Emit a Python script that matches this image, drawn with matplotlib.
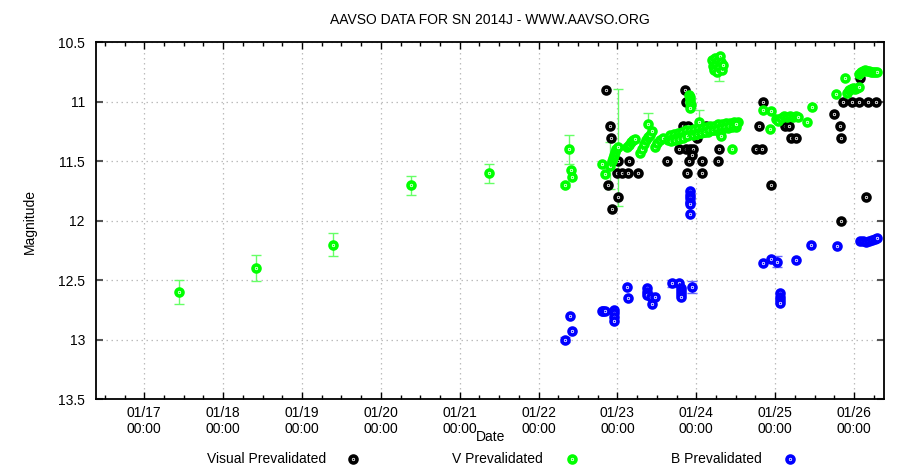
import numpy as np
import pandas as pd
import matplotlib
matplotlib.use("Agg")
import matplotlib.pyplot as plt
import matplotlib.dates as mdates
from matplotlib.lines import Line2D
from matplotlib.ticker import FixedLocator, FuncFormatter

plt.rcParams['font.family'] = ['Liberation Sans', 'DejaVu Sans']

# ---------------- data (day of January 2014, magnitude) ----------------
vis_days = [22.855, 22.905, 22.918, 22.876, 23.011, 22.935,
            23.003, 23.146, 23.624, 23.911, 24.068, 24.279,
            22.990, 23.054, 23.137, 23.257, 23.886, 24.072,
            23.780, 23.865, 23.920, 23.962, 24.288, 24.753, 24.829,
            23.853, 23.865, 23.831, 23.894, 23.941, 24.005, 24.122,
            24.849, 24.799, 24.943, 25.125, 25.179, 25.197, 25.264,
            25.750, 25.822, 25.835, 26.076,
            25.864, 25.970, 26.063, 26.181, 26.275, 26.148, 25.838]
vis_mags = [10.90, 11.20, 11.30, 11.70, 11.80, 11.90,
            11.50, 11.50, 11.50, 11.50, 11.50, 11.50,
            11.60, 11.60, 11.60, 11.60, 11.60, 11.60,
            11.40, 11.40, 11.40, 11.40, 11.40, 11.40, 11.40,
            10.90, 11.00, 11.20, 11.20, 11.45, 11.30, 11.20,
            11.00, 11.20, 11.70, 11.20, 11.20, 11.30, 11.30,
            11.10, 11.20, 11.30, 10.80,
            11.00, 11.00, 11.00, 11.00, 11.00, 11.80, 12.00]

v_days = [17.440, 18.416, 19.394, 20.383, 21.372,
          22.336, 22.387, 22.417, 22.424,
          22.800, 22.842, 22.905, 22.930, 22.943, 22.955, 22.968, 22.980, 23.003,
          23.120, 23.146, 23.171, 23.196, 23.222,
          23.286, 23.311, 23.337, 23.362, 23.387, 23.413,
          23.384, 23.438, 23.476, 23.501, 23.539, 23.577,
          23.641, 23.666, 23.692, 23.717, 23.742, 23.768, 23.793, 23.818, 23.844,
          23.869, 23.894, 23.920, 23.945, 23.970, 23.996, 24.021, 24.046, 24.072,
          24.097, 24.122, 24.148, 24.173, 24.198, 24.224, 24.249, 24.274, 24.300,
          24.325, 24.350, 24.376, 24.401, 24.426, 24.452, 24.477, 24.503, 24.528,
          23.680, 23.730, 23.780, 23.830, 23.880, 23.960, 24.010, 24.060,
          24.110, 24.160, 24.210, 24.260, 24.310, 24.360, 24.410, 24.460, 24.510,
          23.907, 23.920, 23.920, 23.926, 23.932, 23.920,
          24.034,
          24.198, 24.211, 24.224, 24.236, 24.249, 24.262, 24.274, 24.287,
          24.300, 24.312, 24.325, 24.338,
          24.305, 24.309, 24.449,
          24.842, 24.947, 24.934, 25.010,
          25.036, 25.074, 25.112, 25.150, 25.188, 25.226, 25.264, 25.290,
          25.400, 25.463, 25.767, 25.889,
          25.911, 25.936, 25.962, 25.987, 26.012, 26.038, 26.063,
          26.063, 26.088, 26.114, 26.139, 26.164, 26.190, 26.215, 26.240, 26.266, 26.291]
v_mags = [12.60, 12.40, 12.20, 11.70, 11.60,
          11.70, 11.40, 11.57, 11.63,
          11.52, 11.61, 11.54, 11.50, 11.47, 11.45, 11.42, 11.40, 11.38,
          11.38, 11.36, 11.34, 11.32, 11.31,
          11.43, 11.40, 11.355, 11.32, 11.295, 11.28,
          11.19, 11.245, 11.38, 11.345, 11.32, 11.30,
          11.32, 11.28, 11.31, 11.27, 11.30, 11.26, 11.29, 11.25, 11.29,
          11.24, 11.28, 11.24, 11.27, 11.23, 11.27, 11.22, 11.26, 11.22,
          11.25, 11.21, 11.25, 11.20, 11.24, 11.20, 11.24, 11.19, 11.23,
          11.19, 11.22, 11.18, 11.22, 11.18, 11.21, 11.17, 11.21, 11.17,
          11.33, 11.32, 11.31, 11.30, 11.29, 11.28, 11.27, 11.26,
          11.25, 11.24, 11.235, 11.23, 11.22, 11.21, 11.205, 11.20, 11.19,
          10.94, 10.96, 10.98, 11.01, 11.03, 11.05,
          11.17,
          10.65, 10.70, 10.73, 10.63, 10.68, 10.75, 10.65, 10.71,
          10.61, 10.66, 10.73, 10.69,
          11.26, 11.29, 11.40,
          11.07, 11.08, 11.23, 11.14,
          11.16, 11.135, 11.12, 11.13, 11.12, 11.13, 11.12, 11.13,
          11.17, 11.04, 10.93, 10.80,
          10.925, 10.90, 10.89, 10.88, 10.89, 10.88, 10.875,
          10.765, 10.75, 10.74, 10.735, 10.74, 10.74, 10.75, 10.75, 10.75, 10.75]

# error bars on V (day, mag, err)
v_err_days = [17.440, 18.416, 19.394, 20.383, 21.372, 22.336, 22.387,
              22.905, 23.003, 23.384, 24.034, 24.287]
v_err_mags = [12.60, 12.40, 12.20, 11.70, 11.60, 11.70, 11.40,
              11.535, 11.383, 11.19, 11.17, 10.71]
v_err_vals = [0.10, 0.11, 0.10, 0.08, 0.08, 0.02, 0.12,
              0.20, 0.49, 0.10, 0.10, 0.115]

b_days = [22.336, 22.420, 22.399,
          22.800, 22.821, 22.842,
          22.960, 22.960, 22.960, 22.960,
          23.117, 23.137, 23.371, 23.371, 23.371, 23.425, 23.476, 23.438,
          23.688, 23.784, 23.806, 23.806, 23.806, 23.806, 23.949,
          23.920, 23.920, 23.920, 23.920, 23.922, 23.924,
          24.849, 24.947, 25.019, 25.264, 25.454, 25.780,
          25.060, 25.060, 25.062, 25.060,
          26.075, 26.114, 26.152, 26.190, 26.228, 26.266, 26.291]
b_mags = [13.00, 12.93, 12.80,
          12.76, 12.76, 12.76,
          12.75, 12.78, 12.81, 12.84,
          12.56, 12.65, 12.565, 12.60, 12.625, 12.64, 12.645, 12.70,
          12.525, 12.52, 12.565, 12.59, 12.615, 12.64, 12.556,
          11.75, 11.78, 11.81, 11.84, 11.86, 11.94,
          12.357, 12.323, 12.343, 12.332, 12.203, 12.214,
          12.61, 12.64, 12.67, 12.69,
          12.17, 12.173, 12.18, 12.17, 12.16, 12.153, 12.145]

b_err_days = [22.336, 23.688, 23.949, 25.019]
b_err_mags = [13.00, 12.525, 12.556, 12.343]
b_err_vals = [0.02, 0.03, 0.05, 0.045]

x_start = 16.3875
x_end = 26.377

title = "AAVSO DATA FOR SN 2014J - WWW.AAVSO.ORG"
legend_labels = ["Visual Prevalidated", "V Prevalidated", "B Prevalidated"]
colors = ["#000000", "#00ff00", "#0000ff"]

# ---------------- helpers ----------------
base = pd.Timestamp("2014-01-01")
def to_dt(days):
    return base + pd.to_timedelta(np.asarray(days, dtype=float) - 1.0, unit="D")

W, H = 900, 473
fig = plt.figure(figsize=(W / 100, H / 100), dpi=100)
L, R, T, B = 96, 883.7, 42.5, 399
ax = fig.add_axes([L / W, 1 - B / H, (R - L) / W, (B - T) / H])

MS, MEW, DOT = 5.0, 2.6, 1.2

def draw_points(days, mags, color, z):
    d = to_dt(days)
    ax.plot(d, mags, linestyle='none', marker='o', ms=MS, mfc='white',
            mec=color, mew=MEW, zorder=z)
    ax.plot(d, mags, linestyle='none', marker='o', ms=DOT, mfc=color,
            mec=color, mew=0, zorder=z + 0.1)

# error bars
ax.errorbar(to_dt(v_err_days), v_err_mags, yerr=v_err_vals, fmt='none',
            ecolor='#66ff66', elinewidth=1.0, capsize=3.5, capthick=1.0, zorder=2)
ax.errorbar(to_dt(b_err_days), b_err_mags, yerr=b_err_vals, fmt='none',
            ecolor='#6666ff', elinewidth=1.0, capsize=3.5, capthick=1.0, zorder=2)

draw_points(vis_days, vis_mags, colors[0], 3)
draw_points(v_days, v_mags, colors[1], 4)
draw_points(b_days, b_mags, colors[2], 5)

# axes limits & ticks
ax.set_xlim(to_dt([x_start])[0], to_dt([x_end])[0])
ax.set_ylim(13.5, 10.5)

ax.xaxis.set_major_locator(mdates.DayLocator())
ax.xaxis.set_minor_locator(mdates.HourLocator(byhour=[0, 6, 12, 18]))
ax.xaxis.set_major_formatter(mdates.DateFormatter('%m/%d\n%H:%M'))
yt = [10.5, 11.0, 11.5, 12.0, 12.5, 13.0, 13.5]
ax.yaxis.set_major_locator(FixedLocator(yt))
ax.yaxis.set_major_formatter(FuncFormatter(lambda v, p: '%g' % v))

ax.tick_params(axis='x', which='major', direction='in', length=5, width=1,
               top=True, bottom=True, labelsize=10, pad=5, colors='black')
ax.tick_params(axis='x', which='minor', direction='in', length=3, width=1,
               top=True, bottom=True)
ax.tick_params(axis='y', which='major', direction='in', length=5, width=1.5,
               left=True, right=True, labelsize=10, pad=8, color='#555555')
for lab in ax.get_xticklabels():
    lab.set_linespacing(1.15)

ax.grid(True, which='major', axis='both', color='#bcbcbc', linestyle=(0, (1.2, 2.8)),
        linewidth=0.9, zorder=0)
ax.set_axisbelow(True)
for s in ax.spines.values():
    s.set_linewidth(1.3)
    s.set_color('black')

# text
fig.text(490 / W, 1 - 20 / H, title, ha='center', va='center', fontsize=10)
fig.text(30 / W, 1 - 221 / H, 'Magnitude', rotation=90, ha='center', va='center', fontsize=10)
fig.text(491 / W, 1 - 437 / H, 'Date', ha='center', va='center', fontsize=10)

# legend
leg_text_x = [326, 543, 762]
leg_mark_x = [353, 572, 790]
leg_y = 459
for lbl, tx, mx, c in zip(legend_labels, leg_text_x, leg_mark_x, colors):
    fig.text(tx / W, 1 - leg_y / H, lbl, ha='right', va='center', fontsize=10)
    fig.add_artist(Line2D([mx / W], [1 - leg_y / H], transform=fig.transFigure,
                          linestyle='none', marker='o', ms=MS, mfc='white',
                          mec=c, mew=MEW))
    fig.add_artist(Line2D([mx / W], [1 - leg_y / H], transform=fig.transFigure,
                          linestyle='none', marker='o', ms=DOT, mfc=c, mec=c, mew=0))

fig.savefig('out.png', dpi=100)
